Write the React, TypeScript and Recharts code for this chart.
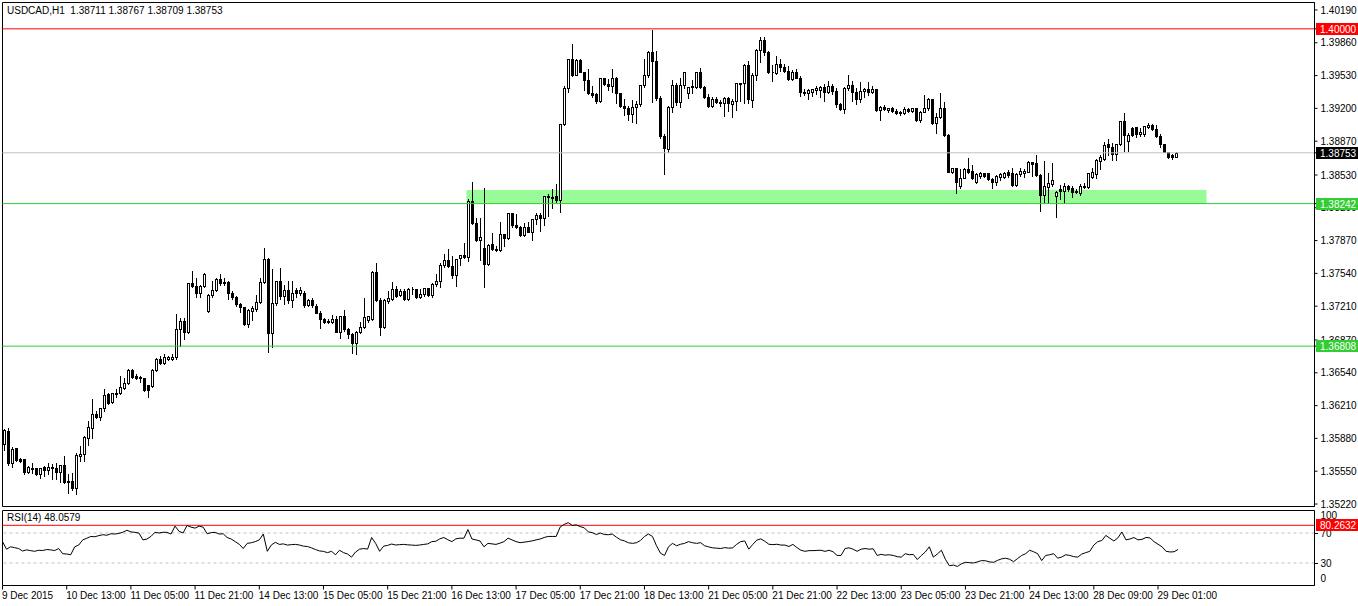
import React from "react";
import {
  ComposedChart,
  Bar,
  Line,
  XAxis,
  YAxis,
  ReferenceLine,
  ReferenceArea,
} from "recharts";

// USDCAD H1, 9 Dec 2015 21:00 .. 29 Dec 2015 06:00
const opens = [
  1.3582, 1.35954, 1.35629, 1.3578, 1.35672, 1.35672, 1.35539, 1.35585, 1.35579, 1.35519,
  1.35589, 1.35565, 1.35595, 1.35579, 1.35539, 1.35612, 1.35451, 1.35451, 1.35384, 1.357,
  1.35725, 1.35887, 1.35987, 1.36122, 1.36098, 1.36183, 1.36323, 1.36243, 1.36336, 1.36333,
  1.3639, 1.36434, 1.36568, 1.3651, 1.365, 1.36484, 1.36417, 1.3641, 1.36568, 1.36678,
  1.3664, 1.36675, 1.3668, 1.36695, 1.36977, 1.37058, 1.36953, 1.3744, 1.37413, 1.37339,
  1.37413, 1.37164, 1.37322, 1.37373, 1.3748, 1.37446, 1.37458, 1.37345, 1.37299, 1.37232,
  1.37205, 1.37031, 1.37164, 1.37182, 1.37255, 1.37456, 1.37681, 1.36937, 1.37239, 1.37466,
  1.37312, 1.37373, 1.37272, 1.37373, 1.37345, 1.3734, 1.37222, 1.37272, 1.37212, 1.37144,
  1.37078, 1.37051, 1.37054, 1.37081, 1.36953, 1.37114, 1.3698, 1.36927, 1.36836, 1.36947,
  1.37003, 1.37074, 1.37081, 1.37551, 1.37272, 1.37003, 1.37262, 1.37282, 1.37383, 1.3732,
  1.37363, 1.37282, 1.37383, 1.3738, 1.37305, 1.37329, 1.3739, 1.37322, 1.3743, 1.37463,
  1.37624, 1.37674, 1.37617, 1.37523, 1.37692, 1.37725, 1.37708, 1.38268, 1.38044, 1.37876,
  1.378, 1.37631, 1.37832, 1.37785, 1.37775, 1.37933, 1.37899, 1.38144, 1.38026, 1.38009,
  1.37926, 1.38009, 1.37959, 1.38087, 1.38127, 1.381, 1.38321, 1.38311, 1.38321, 1.38278,
  1.3904, 1.39408, 1.39696, 1.3954, 1.39686, 1.39569, 1.39485, 1.39351, 1.39341, 1.39274,
  1.39502, 1.39442, 1.39428, 1.39508, 1.39351, 1.39227, 1.392, 1.3914, 1.39217, 1.39241,
  1.39435, 1.39535, 1.3977, 1.39676, 1.39307, 1.38925, 1.3879, 1.39217, 1.39435, 1.39261,
  1.39435, 1.39351, 1.39428, 1.39412, 1.39563, 1.39418, 1.39317, 1.39227, 1.39294, 1.39267,
  1.39251, 1.39307, 1.39241, 1.39274, 1.39448, 1.39452, 1.39636, 1.39284, 1.39535, 1.39787,
  1.39888, 1.3977, 1.39569, 1.39553, 1.39643, 1.39619, 1.39576, 1.39495, 1.39569, 1.39508,
  1.39367, 1.39351, 1.3936, 1.39385, 1.3938, 1.39418, 1.39367, 1.39428, 1.39375, 1.39241,
  1.39193, 1.39402, 1.39435, 1.39367, 1.39294, 1.39375, 1.39395, 1.39367, 1.39392, 1.39183,
  1.39217, 1.39183, 1.392, 1.39173, 1.39166, 1.3915, 1.39193, 1.39173, 1.392, 1.39083,
  1.39166, 1.39207, 1.39294, 1.3905, 1.39116, 1.39207, 1.38932, 1.38563, 1.38597, 1.3842,
  1.38502, 1.3859, 1.3857, 1.38456, 1.38522, 1.38547, 1.38547, 1.38489, 1.38456, 1.38512,
  1.38512, 1.38563, 1.3855, 1.38429, 1.38537, 1.38547, 1.38563, 1.38657, 1.38647, 1.38529,
  1.38328, 1.38412, 1.38436, 1.38321, 1.38389, 1.38369, 1.38422, 1.38395, 1.3837, 1.38345,
  1.38422, 1.38412, 1.38512, 1.3854, 1.3867, 1.3869, 1.38838, 1.38814, 1.38738, 1.38838,
  1.39073, 1.38872, 1.39005, 1.39015, 1.38939, 1.38939, 1.39015, 1.39032, 1.38992, 1.38925,
  1.38838, 1.38764, 1.38731, 1.38711,
];

const highs = [
  1.35984, 1.35997, 1.35806, 1.35786, 1.35696, 1.35679, 1.35612, 1.35645, 1.35585, 1.35595,
  1.35612, 1.35645, 1.35629, 1.35645, 1.35619, 1.35713, 1.35529, 1.35545, 1.35746, 1.35813,
  1.35914, 1.36065, 1.36289, 1.36165, 1.36199, 1.3639, 1.36344, 1.36344, 1.36384, 1.36517,
  1.365, 1.36585, 1.36585, 1.36535, 1.36517, 1.3649, 1.36424, 1.36585, 1.36702, 1.36719,
  1.36736, 1.36719, 1.36736, 1.37138, 1.37104, 1.37104, 1.37446, 1.37574, 1.37506, 1.37433,
  1.37551, 1.37345, 1.37473, 1.375, 1.37541, 1.37506, 1.37473, 1.37373, 1.37322, 1.37255,
  1.37215, 1.37189, 1.37222, 1.37332, 1.375, 1.37808, 1.37708, 1.37591, 1.37473, 1.37607,
  1.37433, 1.37473, 1.37473, 1.37406, 1.37413, 1.3737, 1.37289, 1.37305, 1.37239, 1.37171,
  1.37104, 1.37094, 1.37128, 1.37121, 1.37121, 1.37181, 1.37003, 1.36947, 1.3697, 1.37061,
  1.37305, 1.37121, 1.37574, 1.37651, 1.37305, 1.37289, 1.37373, 1.37463, 1.37423, 1.37396,
  1.3739, 1.37406, 1.37416, 1.3739, 1.3739, 1.37406, 1.37396, 1.3745, 1.37541, 1.37651,
  1.37742, 1.37792, 1.37725, 1.37698, 1.37732, 1.37858, 1.38301, 1.38469, 1.3811, 1.3811,
  1.38412, 1.37842, 1.37959, 1.37825, 1.38067, 1.37943, 1.38154, 1.38154, 1.38144, 1.38026,
  1.3806, 1.38067, 1.381, 1.3816, 1.3816, 1.38328, 1.38345, 1.38402, 1.38446, 1.3905,
  1.39435, 1.3971, 1.39854, 1.39704, 1.39704, 1.39576, 1.39603, 1.39435, 1.39367, 1.39518,
  1.39518, 1.39502, 1.39609, 1.39528, 1.39367, 1.39301, 1.39234, 1.39294, 1.39284, 1.39442,
  1.39704, 1.39787, 1.4, 1.39787, 1.39334, 1.38949, 1.39234, 1.39495, 1.39468, 1.39518,
  1.39576, 1.39428, 1.39495, 1.39576, 1.39619, 1.39435, 1.39351, 1.39327, 1.39327, 1.39294,
  1.39327, 1.39327, 1.39301, 1.39468, 1.39468, 1.39653, 1.39686, 1.39563, 1.39804, 1.39931,
  1.39931, 1.39787, 1.39643, 1.39737, 1.39704, 1.39653, 1.39636, 1.39596, 1.39603, 1.39535,
  1.39408, 1.39408, 1.39402, 1.39435, 1.39435, 1.39452, 1.39485, 1.39452, 1.39418, 1.39261,
  1.39428, 1.39543, 1.39485, 1.39418, 1.39475, 1.39418, 1.39475, 1.39435, 1.394, 1.39234,
  1.39241, 1.39217, 1.39227, 1.39207, 1.39183, 1.39227, 1.39217, 1.39217, 1.3921, 1.39183,
  1.39341, 1.39317, 1.39307, 1.39166, 1.39367, 1.39274, 1.38949, 1.38613, 1.38603, 1.38597,
  1.38613, 1.38714, 1.38637, 1.38563, 1.3857, 1.38563, 1.38563, 1.38512, 1.38537, 1.38563,
  1.3857, 1.3859, 1.38613, 1.38563, 1.38613, 1.38597, 1.3868, 1.38663, 1.38738, 1.38547,
  1.3868, 1.38563, 1.38657, 1.38379, 1.38436, 1.38456, 1.38436, 1.38429, 1.38396, 1.38446,
  1.38456, 1.38557, 1.38613, 1.38704, 1.38738, 1.38872, 1.38899, 1.38858, 1.38848, 1.39083,
  1.3916, 1.38959, 1.39025, 1.39025, 1.39015, 1.39032, 1.39066, 1.3905, 1.3904, 1.38949,
  1.38848, 1.38771, 1.38748, 1.38767,
];

const lows = [
  1.35763, 1.35612, 1.35595, 1.35652, 1.35645, 1.35519, 1.35529, 1.35529, 1.35511, 1.35478,
  1.35504, 1.35519, 1.35471, 1.35471, 1.35438, 1.3543, 1.35327, 1.35361, 1.35317, 1.35652,
  1.35652, 1.35813, 1.35881, 1.36088, 1.36065, 1.36155, 1.36223, 1.36233, 1.36299, 1.36323,
  1.36375, 1.36424, 1.36484, 1.36477, 1.3645, 1.36357, 1.36299, 1.364, 1.36558, 1.36625,
  1.3663, 1.36668, 1.36668, 1.36675, 1.36809, 1.36877, 1.36943, 1.37406, 1.37305, 1.37305,
  1.37406, 1.37155, 1.37299, 1.37366, 1.37423, 1.37423, 1.37279, 1.37279, 1.37212, 1.37154,
  1.3702, 1.36997, 1.37071, 1.37164, 1.37245, 1.37446, 1.36752, 1.36802, 1.37222, 1.37279,
  1.37232, 1.37239, 1.37205, 1.37305, 1.37322, 1.37205, 1.37212, 1.37205, 1.37138, 1.36993,
  1.37038, 1.37038, 1.37038, 1.36948, 1.36887, 1.3696, 1.36893, 1.36736, 1.36726, 1.36937,
  1.36993, 1.37054, 1.37071, 1.37262, 1.3692, 1.36993, 1.37239, 1.37272, 1.37305, 1.37315,
  1.37272, 1.37272, 1.37329, 1.37295, 1.37289, 1.37315, 1.37315, 1.37305, 1.37416, 1.37406,
  1.37607, 1.37607, 1.37496, 1.37416, 1.37624, 1.37698, 1.37664, 1.38034, 1.37866, 1.37674,
  1.37406, 1.37624, 1.37775, 1.37765, 1.37765, 1.37818, 1.37886, 1.38009, 1.37999, 1.37919,
  1.37919, 1.37953, 1.37876, 1.38034, 1.37966, 1.38026, 1.3812, 1.38201, 1.38261, 1.38154,
  1.3903, 1.39361, 1.39528, 1.39535, 1.39563, 1.39385, 1.39341, 1.39317, 1.39251, 1.39267,
  1.39435, 1.39385, 1.39367, 1.39251, 1.39217, 1.39133, 1.39083, 1.39066, 1.3905, 1.39227,
  1.39418, 1.39518, 1.39261, 1.39284, 1.38905, 1.38537, 1.38758, 1.3916, 1.39234, 1.39217,
  1.39402, 1.39307, 1.39351, 1.39402, 1.39408, 1.39307, 1.39217, 1.39217, 1.39251, 1.39227,
  1.39126, 1.39173, 1.39116, 1.39183, 1.39274, 1.39251, 1.39251, 1.39217, 1.39485, 1.39669,
  1.39737, 1.39553, 1.39475, 1.39543, 1.39576, 1.39569, 1.39485, 1.39485, 1.39502, 1.39327,
  1.39334, 1.39294, 1.39327, 1.39341, 1.39317, 1.39274, 1.39351, 1.39341, 1.39217, 1.39183,
  1.3915, 1.39385, 1.39274, 1.39241, 1.39267, 1.39317, 1.39334, 1.39351, 1.39173, 1.39083,
  1.39183, 1.39166, 1.3916, 1.3914, 1.39133, 1.3914, 1.3916, 1.39166, 1.39073, 1.39066,
  1.3916, 1.39183, 1.3904, 1.38949, 1.391, 1.38925, 1.38557, 1.38547, 1.38345, 1.38396,
  1.38496, 1.38547, 1.38489, 1.38446, 1.38502, 1.38506, 1.38479, 1.38402, 1.38429, 1.38479,
  1.38502, 1.38512, 1.38422, 1.38422, 1.38522, 1.38512, 1.38557, 1.38522, 1.38522, 1.38167,
  1.38245, 1.38245, 1.38422, 1.3811, 1.38288, 1.38245, 1.38369, 1.38311, 1.38345, 1.38328,
  1.38402, 1.38402, 1.38502, 1.38502, 1.3859, 1.3868, 1.38731, 1.3868, 1.3868, 1.38831,
  1.38771, 1.38771, 1.38925, 1.38915, 1.38925, 1.38925, 1.39005, 1.38982, 1.38915, 1.38814,
  1.38758, 1.38698, 1.3869, 1.38709,
];

const closes = [
  1.35964, 1.35629, 1.3577, 1.35662, 1.35652, 1.35539, 1.35595, 1.35572, 1.35519, 1.35585,
  1.35562, 1.35589, 1.35579, 1.35539, 1.35612, 1.35438, 1.35438, 1.35384, 1.35713, 1.35725,
  1.35897, 1.35997, 1.36122, 1.36098, 1.36189, 1.36316, 1.36233, 1.36333, 1.36329, 1.364,
  1.36434, 1.36568, 1.365, 1.3649, 1.36484, 1.36367, 1.36367, 1.36568, 1.36678, 1.36638,
  1.36696, 1.36696, 1.36702, 1.36977, 1.37061, 1.36953, 1.3744, 1.37413, 1.37339, 1.37413,
  1.37534, 1.37322, 1.37373, 1.3748, 1.37446, 1.37458, 1.37339, 1.37299, 1.37232, 1.37205,
  1.37031, 1.37171, 1.37189, 1.37255, 1.37456, 1.37681, 1.36937, 1.37239, 1.37466, 1.37312,
  1.37373, 1.37272, 1.37345, 1.37345, 1.37373, 1.37222, 1.37272, 1.37222, 1.37144, 1.37078,
  1.37054, 1.37058, 1.37081, 1.36953, 1.37114, 1.3698, 1.36927, 1.36836, 1.36947, 1.37003,
  1.37104, 1.37108, 1.37551, 1.37272, 1.37003, 1.37272, 1.37289, 1.37383, 1.37315, 1.37363,
  1.37282, 1.37383, 1.3738, 1.37305, 1.37329, 1.37396, 1.37322, 1.3743, 1.37463, 1.37624,
  1.37674, 1.37617, 1.37523, 1.37684, 1.37725, 1.37708, 1.38268, 1.38044, 1.37876, 1.37909,
  1.37631, 1.37825, 1.37785, 1.37775, 1.37933, 1.37899, 1.38144, 1.38026, 1.38009, 1.37926,
  1.38009, 1.37959, 1.38087, 1.38127, 1.381, 1.38321, 1.38311, 1.38295, 1.38278, 1.3904,
  1.39408, 1.39696, 1.39535, 1.39686, 1.39569, 1.39485, 1.39351, 1.39334, 1.39274, 1.39502,
  1.39442, 1.39428, 1.39508, 1.39351, 1.39227, 1.392, 1.3914, 1.39217, 1.39241, 1.39435,
  1.39535, 1.3977, 1.39676, 1.39307, 1.38925, 1.38804, 1.39217, 1.39435, 1.39261, 1.39435,
  1.39563, 1.39418, 1.39412, 1.39563, 1.39418, 1.39317, 1.39227, 1.39294, 1.39267, 1.39251,
  1.39307, 1.39251, 1.39274, 1.39452, 1.39455, 1.39636, 1.39294, 1.39535, 1.39787, 1.39888,
  1.3977, 1.39569, 1.39563, 1.39643, 1.39619, 1.39576, 1.39495, 1.39569, 1.39508, 1.39367,
  1.39351, 1.39385, 1.39395, 1.394, 1.39418, 1.39367, 1.39428, 1.39375, 1.39241, 1.39193,
  1.39402, 1.39435, 1.39367, 1.39294, 1.39375, 1.39395, 1.39367, 1.39392, 1.39183, 1.39217,
  1.39193, 1.392, 1.39173, 1.3915, 1.3915, 1.39193, 1.39173, 1.392, 1.39083, 1.39166,
  1.39207, 1.39294, 1.3905, 1.39116, 1.39207, 1.38932, 1.38563, 1.38597, 1.38462, 1.38502,
  1.3859, 1.38563, 1.38502, 1.38537, 1.38547, 1.38522, 1.38489, 1.38456, 1.38522, 1.38537,
  1.38547, 1.38529, 1.38429, 1.38537, 1.3857, 1.3857, 1.38657, 1.38637, 1.38529, 1.38328,
  1.38422, 1.38446, 1.38479, 1.38355, 1.38369, 1.38422, 1.38389, 1.38355, 1.38355, 1.38422,
  1.38412, 1.38547, 1.38563, 1.3868, 1.38714, 1.38831, 1.38814, 1.38738, 1.38838, 1.39073,
  1.38932, 1.38932, 1.38932, 1.38939, 1.38965, 1.39025, 1.39032, 1.38992, 1.38925, 1.38838,
  1.38764, 1.38714, 1.38711, 1.38753,
];

const rsiValues = [
  58.5, 48.4, 51.6, 50.5, 49.3, 46.0, 47.5, 46.5, 45.6, 47.0,
  46.6, 48.0, 47.5, 46.6, 49.3, 42.4, 42.0, 41.0, 51.6, 54.0,
  60.8, 63.0, 65.4, 65.0, 66.5, 67.7, 67.0, 69.0, 68.6, 69.5,
  71.0, 73.7, 71.5, 70.9, 70.0, 60.8, 62.0, 65.4, 70.9, 70.0,
  71.0, 70.9, 68.6, 79.2, 72.3, 70.0, 80.1, 77.8, 76.5, 79.2,
  77.8, 69.0, 70.5, 70.9, 68.6, 69.0, 64.0, 62.0, 58.5, 55.0,
  49.3, 56.2, 57.0, 58.5, 60.8, 68.6, 45.6, 54.0, 57.6, 54.8,
  55.5, 53.9, 54.5, 54.8, 54.0, 52.5, 52.0, 50.2, 48.0, 46.1,
  45.5, 43.8, 45.6, 41.0, 47.0, 43.8, 42.0, 37.8, 44.7, 48.4,
  49.3, 48.5, 64.0, 56.2, 45.6, 52.5, 53.5, 55.3, 54.0, 54.5,
  54.8, 54.2, 53.9, 53.5, 54.0, 54.8, 55.5, 58.5, 59.0, 62.2,
  64.0, 61.0, 58.5, 62.2, 63.1, 63.0, 74.6, 62.0, 60.8, 59.4,
  51.6, 56.2, 55.5, 54.8, 56.5, 58.5, 63.1, 60.8, 58.5, 57.1,
  57.8, 58.5, 59.5, 60.8, 62.0, 64.0, 65.4, 65.4, 65.4, 78.0,
  81.5, 83.8, 80.1, 80.8, 78.5, 76.9, 71.5, 70.5, 68.0, 70.0,
  68.0, 67.7, 68.6, 64.5, 61.0, 59.5, 57.0, 56.2, 57.0, 60.0,
  65.4, 68.6, 65.4, 53.0, 43.0, 40.1, 51.6, 56.2, 53.0, 55.0,
  56.2, 58.5, 57.0, 56.2, 57.1, 53.0, 51.5, 50.2, 49.8, 49.3,
  50.5, 49.8, 50.2, 55.0, 58.5, 59.4, 48.4, 54.8, 60.5, 62.2,
  59.0, 55.0, 54.5, 55.0, 53.9, 53.9, 52.0, 54.8, 50.5, 47.0,
  45.6, 46.5, 46.5, 46.8, 47.0, 45.5, 47.0, 45.0, 40.1, 40.1,
  49.3, 50.2, 48.4, 45.6, 48.4, 49.3, 48.4, 49.0, 40.1, 41.5,
  40.5, 41.0, 40.1, 38.5, 37.8, 42.4, 41.0, 41.5, 34.6, 40.0,
  44.7, 51.6, 37.8, 42.0, 47.0, 35.0, 26.3, 27.2, 25.4, 29.0,
  30.9, 30.5, 30.0, 31.5, 33.2, 33.0, 31.5, 30.9, 33.5, 35.5,
  36.4, 35.0, 31.8, 36.0, 40.0, 42.4, 47.0, 45.0, 42.4, 33.2,
  40.1, 41.0, 42.4, 36.4, 38.0, 41.0, 40.1, 38.5, 37.8, 42.0,
  43.8, 45.6, 53.9, 58.5, 60.0, 66.8, 63.0, 59.4, 63.5, 71.4,
  60.8, 62.0, 64.0, 60.8, 61.5, 64.0, 63.5, 58.5, 55.0, 51.6,
  45.6, 44.7, 45.0, 48.0579,
];

const priceTicks = [
  1.3522, 1.3555, 1.3588, 1.3621, 1.3654, 1.3687, 1.3721, 1.3754,
  1.3787, 1.382, 1.3853, 1.3887, 1.392, 1.3953, 1.3986, 1.4019,
];
const rsiTicks = [0, 30, 70, 100];

const timeTickIndex = [0, 16, 32, 48, 64, 80, 96, 112, 128, 144, 160, 176, 192, 208, 224, 240, 256, 272, 288];
const timeTickText = [
  "9 Dec 2015", "10 Dec 13:00", "11 Dec 05:00", "11 Dec 21:00", "14 Dec 13:00",
  "15 Dec 05:00", "15 Dec 21:00", "16 Dec 13:00", "17 Dec 05:00", "17 Dec 21:00",
  "18 Dec 13:00", "21 Dec 05:00", "21 Dec 21:00", "22 Dec 13:00", "23 Dec 05:00",
  "23 Dec 21:00", "24 Dec 13:00", "28 Dec 09:00", "29 Dec 01:00",
];

// horizontal levels with their price-scale tags
const levelPrices = [1.4, 1.38753, 1.38242, 1.36808];
const levelTexts = ["1.40000", "1.38753", "1.38242", "1.36808"];
const levelLineColors = ["#FF0000", "#C0C0C0", "#32CD32", "#32CD32"];
const levelTagColors = ["#FF0000", "#000000", "#32CD32", "#32CD32"];

const zoneLow = 1.38242;
const zoneTop = 1.3838;
const zoneFrom = 116;
const zoneTo = 300;

const rsiLevel = 80.2632;
const rsiLevelText = "80.2632";

const SLOTS = 328; // chart shift leaves empty bars on the right

const rows = Array.from({ length: SLOTS }, (_, i) =>
  i < closes.length
    ? {
        i,
        range: [lows[i], highs[i]],
        open: opens[i],
        high: highs[i],
        low: lows[i],
        close: closes[i],
        rsi: rsiValues[i],
      }
    : { i }
);

const FONT = "'Liberation Sans', Arial, sans-serif";
const same = (a: number, b: number) => Math.abs(a - b) < 1e-9;

function Candle(props: any) {
  const { x, y, width, height, payload } = props;
  if (!payload || payload.open == null) return null;
  const { open, high, low, close } = payload;
  const top = Math.min(y, y + height);
  const span = Math.abs(height);
  const k = high > low ? span / (high - low) : 0;
  const py = (v: number) => top + (high - v) * k;
  const cx = Math.floor(x + width / 2) + 0.5;
  const bull = close >= open;
  const yHigh = Math.round(py(high)) + 0.5;
  const yLow = Math.round(py(low)) + 0.5;
  const bTop = Math.round(py(Math.max(open, close))) + 0.5;
  const bBot = Math.round(py(Math.min(open, close))) + 0.5;
  return (
    <g shapeRendering="crispEdges">
      <line x1={cx} x2={cx} y1={yHigh} y2={yLow} stroke="#000" strokeWidth={1} />
      {bBot - bTop >= 1 ? (
        <rect
          x={cx - 1}
          y={bTop}
          width={2}
          height={bBot - bTop}
          fill={bull ? "#fff" : "#000"}
          stroke="#000"
          strokeWidth={1}
        />
      ) : (
        <line x1={cx - 1} x2={cx + 1} y1={bTop} y2={bTop} stroke="#000" strokeWidth={1} />
      )}
    </g>
  );
}

function Tag({ x, y, text, color }: { x: number; y: number; text: string; color: string }) {
  const top = Math.round(y) - 6;
  return (
    <g>
      <rect x={x} y={top} width={42} height={12} fill={color} />
      <text x={x + 4} y={top + 10} fill="#fff" fontSize={10} fontFamily={FONT}>
        {text}
      </text>
    </g>
  );
}

// price scale: ordinary labels first, level tags last so they sit on top
function PriceTick(props: any) {
  const { x, y, payload } = props;
  const v = payload.value;
  const li = levelPrices.findIndex((p) => same(p, v));
  if (li >= 0) {
    return <Tag x={x - 4.5} y={y} text={levelTexts[li]} color={levelTagColors[li]} />;
  }
  return (
    <text x={x} y={y} dy="0.355em" fontSize={10} fill="#000" textAnchor="start" fontFamily={FONT}>
      {v.toFixed(5)}
    </text>
  );
}

function TimeTick(props: any) {
  const { x, y, payload } = props;
  const idx = timeTickIndex.indexOf(payload.value);
  return (
    <text x={x - 0.5} y={y + 7} fontSize={10} fill="#000" textAnchor="start" fontFamily={FONT}>
      {idx >= 0 ? timeTickText[idx] : ""}
    </text>
  );
}

function RsiTick(props: any) {
  const { x, y, payload } = props;
  const v = payload.value;
  if (same(v, rsiLevel)) {
    return <Tag x={x - 3.5} y={y} text={rsiLevelText} color="#FF0000" />;
  }
  const dy = v === 100 ? 8 : v === 0 ? -4 : 3.5;
  return (
    <g>
      {(v === 30 || v === 70) && (
        <line x1={x - 5} x2={x - 2} y1={y} y2={y} stroke="#000" shapeRendering="crispEdges" />
      )}
      <text x={x + 1} y={y + dy} fontSize={10} fill="#000" textAnchor="start" fontFamily={FONT}>
        {String(v)}
      </text>
    </g>
  );
}

export default function App() {
  return (
    <div
      style={{
        position: "absolute",
        left: 0,
        top: 0,
        width: 1358,
        height: 606,
        background: "#fff",
        fontFamily: FONT,
      }}
    >
      <ComposedChart
        width={1358}
        height={509}
        data={rows}
        margin={{ top: 2.5, right: 0, bottom: 2.5, left: 2.5 }}
      >
        <XAxis dataKey="i" type="category" hide />
        <ReferenceArea
          x1={zoneFrom}
          x2={zoneTo}
          y1={zoneLow}
          y2={zoneTop}
          fill="#98FB98"
          fillOpacity={1}
          stroke="none"
        />
        <Bar
          dataKey="range"
          barSize={2}
          isAnimationActive={false}
          shape={(p: any) => <Candle {...p} />}
        />
        {levelPrices.map((p, k) => (
          <ReferenceLine key={k} y={p} stroke={levelLineColors[k]} />
        ))}
        <ReferenceArea x1={0} x2={SLOTS - 1} y1={1.35195} y2={1.40265} fill="none" stroke="#000" />
        <YAxis
          orientation="right"
          width={43.5}
          domain={[1.35195, 1.40265]}
          allowDataOverflow
          ticks={[...priceTicks, ...levelPrices]}
          interval={0}
          tick={(p: any) => <PriceTick {...p} />}
          tickSize={3}
          tickMargin={3}
          stroke="#000"
        />
      </ComposedChart>

      <ComposedChart
        width={1358}
        height={97}
        data={rows}
        margin={{ top: 1.5, right: 0, bottom: 0, left: 2.5 }}
      >
        <XAxis
          dataKey="i"
          type="category"
          ticks={timeTickIndex}
          interval={0}
          height={20.5}
          axisLine={false}
          tickSize={4}
          stroke="#000"
          tick={(p: any) => <TimeTick {...p} />}
        />
        <ReferenceLine y={70} stroke="#C0C0C0" strokeDasharray="3 3" />
        <ReferenceLine y={30} stroke="#C0C0C0" strokeDasharray="3 3" />
        <ReferenceLine y={rsiLevel} stroke="#FF0000" />
        <Line
          dataKey="rsi"
          type="linear"
          stroke="#000"
          strokeWidth={1}
          dot={false}
          isAnimationActive={false}
        />
        <ReferenceArea x1={0} x2={SLOTS - 1} y1={0} y2={100} fill="none" stroke="#000" />
        <YAxis
          orientation="right"
          width={43.5}
          domain={[0, 100]}
          ticks={[...rsiTicks, rsiLevel]}
          interval={0}
          tickLine={false}
          tickSize={3}
          stroke="#000"
          tick={(p: any) => <RsiTick {...p} />}
        />
      </ComposedChart>

      <div
        style={{
          position: "absolute",
          left: 7,
          top: 5,
          fontSize: 10,
          lineHeight: "12px",
          whiteSpace: "pre",
          color: "#000",
        }}
      >
        {"USDCAD,H1  1.38711 1.38767 1.38709 1.38753"}
      </div>
      <div
        style={{
          position: "absolute",
          left: 7,
          top: 512,
          fontSize: 10,
          lineHeight: "12px",
          whiteSpace: "pre",
          color: "#000",
        }}
      >
        {"RSI(14) 48.0579"}
      </div>
    </div>
  );
}
